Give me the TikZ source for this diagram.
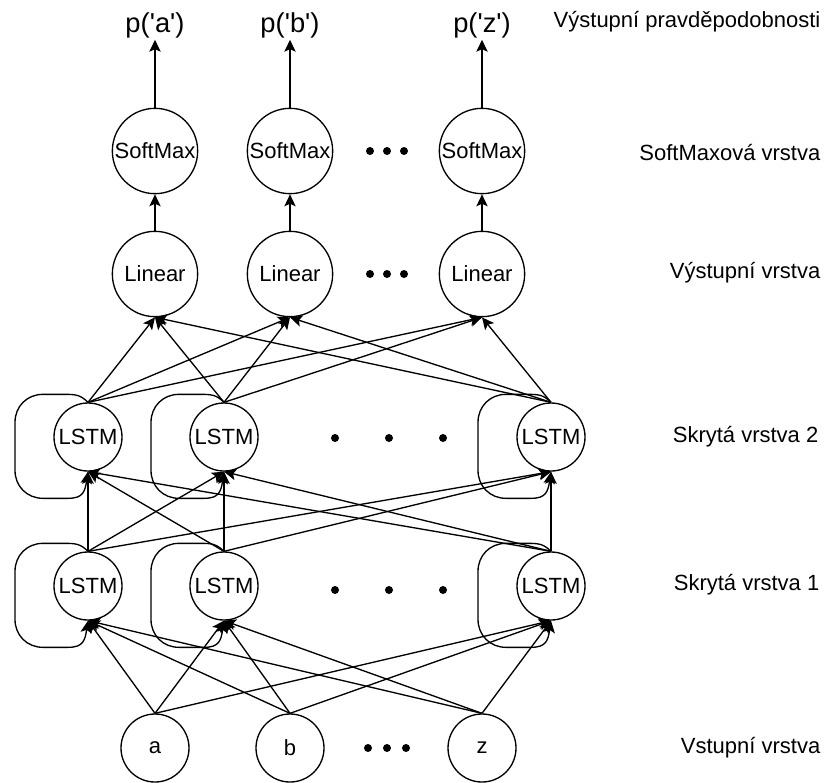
\documentclass[tikz,border=0pt]{standalone}
\usepackage{fontspec}
\setmainfont{Liberation Sans}[Ligatures=TeXOff]
\usetikzlibrary{arrows.meta, positioning}

% smyčka zpětné vazby vlevo od LSTM uzlu
\newcommand{\selfloop}[1]{%
  \draw[link] (#1.north) .. controls +(-8,-8) and +(12,0) .. ++(-25,-8) -- ++(-20,0)
    .. controls +(-16,0) and +(0,-16) .. ++(-28,28) -- ++(0,48)
    .. controls +(0,16) and +(-16,0) .. ++(28,28) -- ++(25,0)
    .. controls +(15,0) and +(-3,20) .. (#1.south);}

\begin{document}
\begin{tikzpicture}[x=0.75pt, y=-0.75pt, line width=1pt,
    >={Stealth[length=9pt, width=8.5pt, inset=2pt]},
    neuron/.style={draw, circle, minimum size=51pt, inner sep=0pt, font=\fontsize{16.5}{20}\selectfont},
    bigneuron/.style={neuron, minimum size=64pt},
    link/.style={->},
    dot/.style={circle, fill, inner sep=0pt, minimum size=6pt},
    layer/.style={anchor=east, inner sep=0pt, font=\fontsize{16.5}{20}\selectfont},
    prob/.style={inner sep=1pt, font=\fontsize{20.5}{24}\selectfont}]

    \useasboundingbox (0,0) rectangle (827,782);

    % vstupní vrstva
    \node[neuron] (ia) at (155,748) {a};
    \node[neuron] (ib) at (290,748) {b};
    \node[neuron] (iz) at (482,748) {z};

    % skryté vrstvy
    \node[neuron] (ha) at (88,586)  {LSTM};
    \node[neuron] (hb) at (224,586) {LSTM};
    \node[neuron] (hz) at (551,586) {LSTM};
    \node[neuron] (ka) at (88,437)  {LSTM};
    \node[neuron] (kb) at (224,437) {LSTM};
    \node[neuron] (kz) at (551,437) {LSTM};

    % výstupní a softmax vrstva
    \node[bigneuron] (la) at (155,274) {Linear};
    \node[bigneuron] (lb) at (290,274) {Linear};
    \node[bigneuron] (lz) at (482,274) {Linear};
    \node[bigneuron] (sa) at (155,151) {SoftMax};
    \node[bigneuron] (sb) at (290,151) {SoftMax};
    \node[bigneuron] (sz) at (482,151) {SoftMax};

    % pravděpodobnosti
    \node[prob] (pa) at (155,25) {p('a')};
    \node[prob] (pb) at (290,25) {p('b')};
    \node[prob] (pz) at (482,25) {p('z')};

    % tečky
    \node[dot] (d1) at (368,748) {}; \node[dot] (d2) at (387,748) {}; \node[dot] (d3) at (406,748) {};
    \node[dot] (d4) at (335,590) {}; \node[dot] (d5) at (389,590) {}; \node[dot] (d6) at (443,590) {};
    \node[dot] (d7) at (335,438) {}; \node[dot] (d8) at (389,438) {}; \node[dot] (d9) at (443,438) {};
    \node[dot] (d10) at (370,274) {}; \node[dot] (d11) at (387,274) {}; \node[dot] (d12) at (404,274) {};
    \node[dot] (d13) at (370,151) {}; \node[dot] (d14) at (387,151) {}; \node[dot] (d15) at (404,151) {};

    % popisky vrstev
    \node[layer] (t1) at (821,22)  {Výstupní pravděpodobnosti};
    \node[layer] (t2) at (821,153) {SoftMaxová vrstva};
    \node[layer] (t3) at (821,273) {Výstupní vrstva};
    \node[layer] (t4) at (819,437) {Skrytá vrstva 2};
    \node[layer] (t5) at (820,585) {Skrytá vrstva 1};
    \node[layer] (t6) at (821,748) {Vstupní vrstva};

    % spoje vstup -> skrytá vrstva 1
    \draw (ia.north) edge[link] (ha.south) edge[link] (hb.south) edge[link] (hz.south);
    \draw (ib.north) edge[link] (ha.south) edge[link] (hb.south) edge[link] (hz.south);
    \draw (iz.north) edge[link] (ha.south) edge[link] (hb.south) edge[link] (hz.south);

    % skrytá vrstva 1 -> skrytá vrstva 2
    \draw (ha.north) edge[link] (ka.south) edge[link] (kb.south) edge[link] (kz.south);
    \draw (hb.north) edge[link] (ka.south) edge[link] (kb.south) edge[link] (kz.south);
    \draw (hz.north) edge[link] (ka.south) edge[link] (kb.south) edge[link] (kz.south);

    % skrytá vrstva 2 -> výstupní vrstva
    \draw (ka.north) edge[link] (la.south) edge[link] (lb.south) edge[link] (lz.south);
    \draw (kb.north) edge[link] (la.south) edge[link] (lb.south) edge[link] (lz.south);
    \draw (kz.north) edge[link] (la.south) edge[link] (lb.south) edge[link] (lz.south);

    % smyčky
    \selfloop{ha} \selfloop{hb} \selfloop{hz}
    \selfloop{ka} \selfloop{kb} \selfloop{kz}

    % výstupní -> softmax -> pravděpodobnosti
    \draw[link] (la) -- (sa);
    \draw[link] (lb) -- (sb);
    \draw[link] (lz) -- (sz);
    \draw[link] (sa) -- (pa);
    \draw[link] (sb) -- (pb);
    \draw[link] (sz) -- (pz);
\end{tikzpicture}
\end{document}
